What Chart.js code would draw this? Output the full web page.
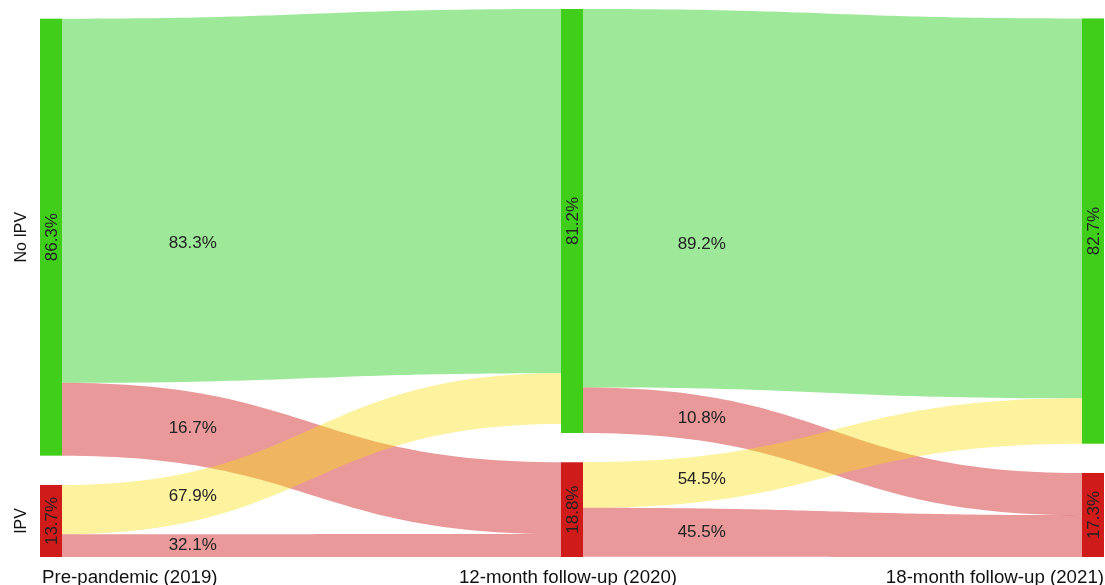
<!DOCTYPE html>
<html>
<head>
    <meta charset="UTF-8">
    <title>IPV transitions</title>
    <script src="https://cdn.jsdelivr.net/npm/chart.js"></script>
    <style>
        body { margin: 0; background: #fff; }
    </style>
</head>
<body>
<canvas id="sankeyChart" width="1105" height="585"></canvas>
<script>
    // waves and states
    const stages = ['Pre-pandemic (2019)', '12-month follow-up (2020)', '18-month follow-up (2021)'];
    const states = ['No IPV', 'IPV'];
    // share of each state per wave (node labels)
    const nodePct = [
        [86.3, 13.7],
        [81.2, 18.8],
        [82.7, 17.3]
    ];
    // flows between waves: source wave, source state, target state
    const flowStage = [0, 0, 0, 0, 1, 1, 1, 1];
    const flowFrom  = [0, 0, 1, 1, 0, 0, 1, 1];
    const flowTo    = [0, 1, 0, 1, 0, 1, 0, 1];
    // percent of source state (flow labels)
    const flowPct   = [83.3, 16.7, 67.9, 32.1, 89.2, 10.8, 54.5, 45.5];
    // band thickness leaving the source and reaching the target (share of sample)
    const flowOut   = [71.5, 14.3, 9.7, 4.45, 74.3, 8.95, 8.95, 9.6];
    const flowIn    = [71.5, 14.1, 10.0, 4.5, 74.6, 8.3, 8.9, 8.2];

    const GAP = 5.75;      // space between nodes, in y units
    const NODE_W = 22;     // px
    const FONT = '"Liberation Sans", Arial, Helvetica, sans-serif';

    const nodeColors = ['#41ce1a', '#d01b1b'];
    const flowColors = {
        stay: 'rgba(10, 200, 0, 0.4)',
        toIpv: 'rgba(200, 0, 0, 0.4)',
        toNone: 'rgba(250, 222, 10, 0.4)'
    };

    // node size = max(incoming, outgoing)
    const nodeSize = stages.map(function (s, c) {
        return states.map(function (st, i) {
            let out = 0, inn = 0;
            flowStage.forEach(function (fs, f) {
                if (fs === c && flowFrom[f] === i) out += flowOut[f];
                if (fs === c - 1 && flowTo[f] === i) inn += flowIn[f];
            });
            return Math.max(out, inn);
        });
    });

    // columns are stacked from the bottom (y = 0)
    const nodeTop = nodeSize.map(function (sizes) {
        let top = sizes.reduce((a, b) => a + b, 0) + GAP * (sizes.length - 1);
        return sizes.map(function (sz) {
            const t = top;
            top -= sz + GAP;
            return t;
        });
    });
    const yMax = Math.max.apply(null, nodeTop.map(col => col[0]));

    function flowColor(f) {
        if (flowTo[f] === 1) return flowColors.toIpv;
        if (flowFrom[f] === 1) return flowColors.toNone;
        return flowColors.stay;
    }

    // bezier helpers for the band curves (horizontal tangents)
    function bezX(s) { return 1.5 * s * (1 - s) + s * s * s; }
    function bezY(s) { return 3 * s * s - 2 * s * s * s; }
    function paramAt(frac) {
        let lo = 0, hi = 1;
        for (let k = 0; k < 30; k++) {
            const mid = (lo + hi) / 2;
            if (bezX(mid) < frac) lo = mid; else hi = mid;
        }
        return (lo + hi) / 2;
    }

    const sankeyPlugin = {
        id: 'sankey',
        afterDatasetsDraw: function (chart) {
            const ctx = chart.ctx;
            const xs = chart.scales.x;
            const ys = chart.scales.y;
            const area = chart.chartArea;

            // offsets of stacked bands inside each node
            const outOff = nodeTop.map(col => col.slice());
            const inOff = nodeTop.map(col => col.slice());
            const labels = [];

            ctx.save();
            flowStage.forEach(function (c, f) {
                const a = flowFrom[f], b = flowTo[f];
                const s0 = ys.getPixelForValue(outOff[c][a]);
                const s1 = ys.getPixelForValue(outOff[c][a] - flowOut[f]);
                const t0 = ys.getPixelForValue(inOff[c + 1][b]);
                const t1 = ys.getPixelForValue(inOff[c + 1][b] - flowIn[f]);
                outOff[c][a] -= flowOut[f];
                inOff[c + 1][b] -= flowIn[f];

                const x0 = xs.getPixelForValue(c) + NODE_W / 2;
                const x1 = xs.getPixelForValue(c + 1) - NODE_W / 2;
                const xm = (x0 + x1) / 2;

                ctx.beginPath();
                ctx.moveTo(x0, s0);
                ctx.bezierCurveTo(xm, s0, xm, t0, x1, t0);
                ctx.lineTo(x1, t1);
                ctx.bezierCurveTo(xm, t1, xm, s1, x0, s1);
                ctx.closePath();
                ctx.fillStyle = flowColor(f);
                ctx.fill();

                // label about a quarter of the way along the band
                const along = c === 0 ? 0.262 : 0.238;
                const s = paramAt(along);
                const top = s0 + (t0 - s0) * bezY(s);
                const bot = s1 + (t1 - s1) * bezY(s);
                const frac = (bot - top) > (area.bottom - area.top) / 2 ? 0.62 : 0.5;
                labels.push({
                    x: x0 + (x1 - x0) * along,
                    y: top + (bot - top) * frac,
                    text: flowPct[f].toFixed(1) + '%'
                });
            });

            // nodes
            nodeTop.forEach(function (col, c) {
                const xc = xs.getPixelForValue(c);
                col.forEach(function (top, i) {
                    const y0 = ys.getPixelForValue(top);
                    const y1 = ys.getPixelForValue(top - nodeSize[c][i]);
                    ctx.fillStyle = nodeColors[i];
                    ctx.fillRect(xc - NODE_W / 2, y0, NODE_W, y1 - y0);

                    ctx.save();
                    ctx.translate(xc, (y0 + y1) / 2);
                    ctx.rotate(-Math.PI / 2);
                    ctx.fillStyle = '#222';
                    ctx.font = '17px ' + FONT;
                    ctx.textAlign = 'center';
                    ctx.textBaseline = 'middle';
                    ctx.fillText(nodePct[c][i].toFixed(1) + '%', 0, 1);
                    ctx.restore();

                    // state names next to the first column
                    if (c === 0) {
                        ctx.save();
                        ctx.translate(22, (y0 + y1) / 2);
                        ctx.rotate(-Math.PI / 2);
                        ctx.fillStyle = '#111';
                        ctx.font = '16px ' + FONT;
                        ctx.textAlign = 'center';
                        ctx.textBaseline = 'middle';
                        ctx.fillText(states[i], 0, 0);
                        ctx.restore();
                    }
                });
            });

            // flow labels
            ctx.fillStyle = '#222';
            ctx.font = '17px ' + FONT;
            ctx.textAlign = 'center';
            ctx.textBaseline = 'middle';
            labels.forEach(function (l) {
                ctx.fillText(l.text, l.x, l.y);
            });

            // wave names under the columns
            ctx.fillStyle = '#111';
            ctx.font = '18.7px ' + FONT;
            ctx.textBaseline = 'alphabetic';
            stages.forEach(function (name, c) {
                const xc = xs.getPixelForValue(c);
                let x = xc;
                if (c === 0) { ctx.textAlign = 'left'; x = xc - NODE_W / 2 + 2; }
                else if (c === stages.length - 1) { ctx.textAlign = 'right'; x = xc + NODE_W / 2; }
                else { ctx.textAlign = 'center'; x = xc - 4; }
                ctx.fillText(name, x, 583);
            });
            ctx.restore();
        }
    };

    const ctx = document.getElementById('sankeyChart').getContext('2d');
    const sankeyChart = new Chart(ctx, {
        type: 'scatter',
        data: { datasets: [{ data: [] }] },
        options: {
            responsive: false,
            animation: false,
            layout: { padding: { left: 51, right: 12, top: 9, bottom: 28 } },
            plugins: {
                legend: { display: false },
                tooltip: { enabled: false }
            },
            scales: {
                x: { type: 'linear', min: 0, max: stages.length - 1, display: false },
                y: { type: 'linear', min: 0, max: yMax, display: false }
            }
        },
        plugins: [sankeyPlugin]
    });
</script>
</body>
</html>
